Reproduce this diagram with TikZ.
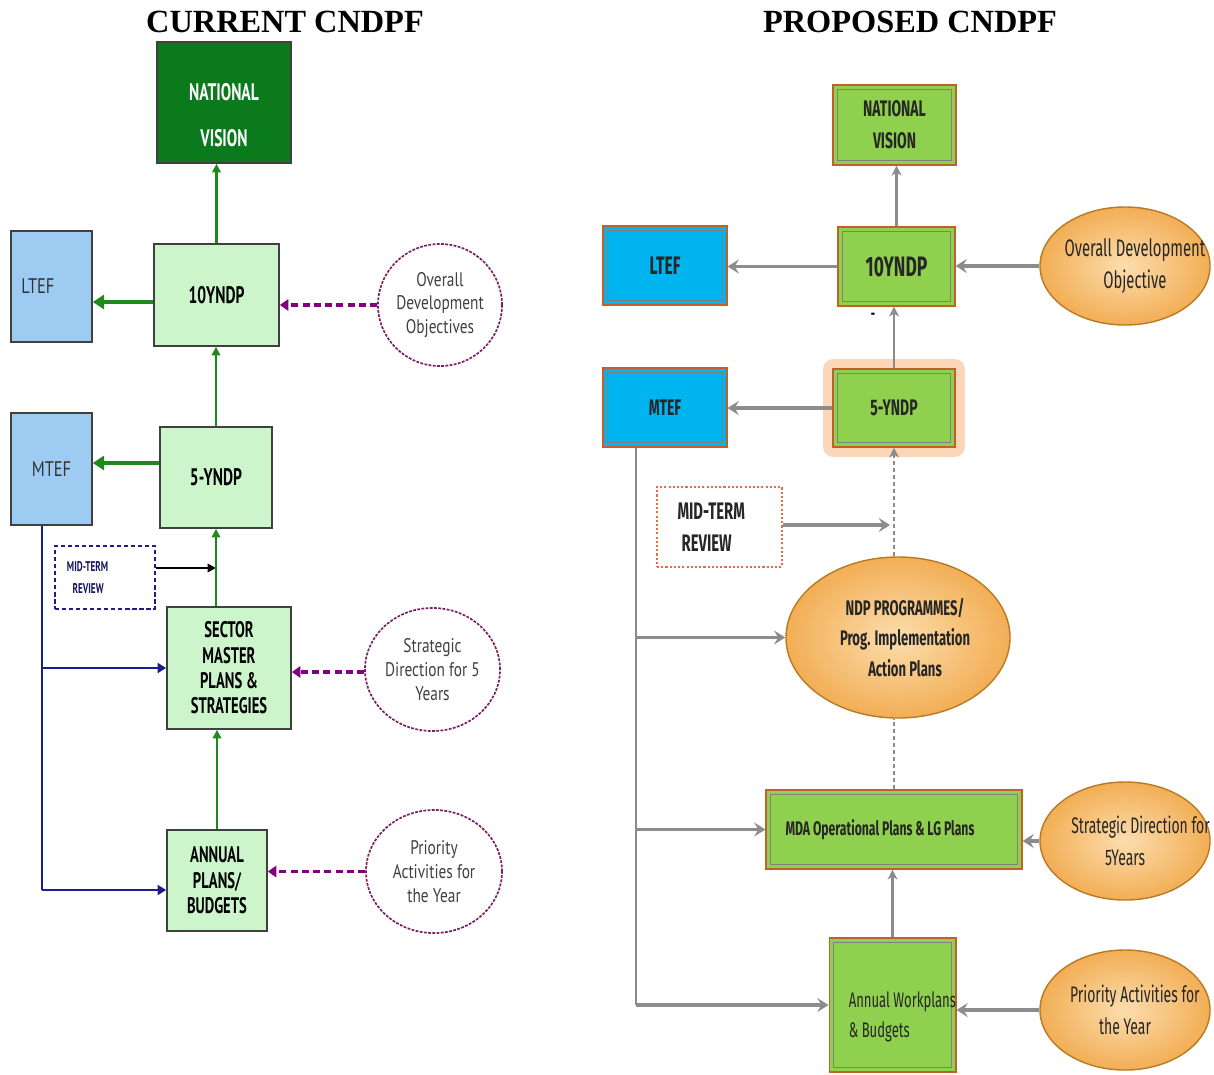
\documentclass[tikz,border=0pt]{standalone}
\usepackage{amsmath}
\usepackage{fontspec}
\usepackage{tikz}
\usetikzlibrary{positioning,arrows.meta,shapes.geometric}
\usepackage{xcolor}
\setmainfont{Liberation Serif}
\newfontfamily\curfont[FakeStretch=0.65]{PT Sans}
\newfontfamily\curthin[FakeStretch=0.78]{PT Sans}
\newfontfamily\propfont[FakeStretch=0.62]{Fira Sans}

\definecolor{nvdark}{HTML}{0B7A1C}
\definecolor{palegreen}{HTML}{CCF5CC}
\definecolor{paleblue}{HTML}{9DCBF2}
\definecolor{arrowgreen}{HTML}{1E8A1E}
\definecolor{dashpurple}{HTML}{800080}
\definecolor{ringpurple}{HTML}{7A1F62}
\definecolor{linenavy}{HTML}{1C1C8E}
\definecolor{limegreen}{HTML}{8FD14F}
\definecolor{cyanbox}{HTML}{00B4F0}
\definecolor{ovalorange}{HTML}{F2AE55}
\definecolor{ovallight}{HTML}{FCDDAE}
\definecolor{ovaldark}{HTML}{B87A22}
\definecolor{edgebrown}{HTML}{C0602A}
\definecolor{arrowgray}{HTML}{8C8C8C}
\definecolor{glow}{HTML}{FAC49A}
\definecolor{dotorange}{HTML}{E07040}

\begin{document}
\begin{tikzpicture}[x=0.025cm, y=-0.025cm,
    title/.style={font=\bfseries\fontsize{23pt}{26pt}\selectfont},
    curbox/.style={rectangle, draw=black!75, line width=1.2pt, fill=palegreen, align=center,
        font=\curfont\bfseries\fontsize{16pt}{18pt}\selectfont},
    blubox/.style={rectangle, draw=black!75, line width=1.2pt, fill=paleblue, minimum width=2.025cm,
        font=\curthin\fontsize{15pt}{18pt}\selectfont, text=black!80},
    curoval/.style={ellipse, draw=ringpurple, line width=1.2pt, dash pattern=on 2pt off 1pt,
        align=center, inner sep=0pt, font=\curthin\fontsize{14pt}{17pt}\selectfont, text=black!75},
    rbox/.style={rectangle, draw=edgebrown, line width=0.8pt, align=center, text=black!85,
        font=\propfont\bfseries,
        path picture={\draw[black!50, line width=0.7pt]
            ([shift={(3pt,-3pt)}]path picture bounding box.north west) rectangle
            ([shift={(-3pt,3pt)}]path picture bounding box.south east);}},
    roval/.style={ellipse, draw=ovaldark, line width=1pt, shading=radial, inner color=ovallight,
        outer color=ovalorange, align=center, inner xsep=-30pt, inner ysep=-10pt, text=black!85},
    greenarrow/.style={arrowgreen, line width=2.2pt, -{Triangle[width=10pt,length=8pt]}},
    greenup/.style={arrowgreen, line width=1.8pt, -{Triangle[width=6pt,length=6pt]}},
    purplearrow/.style={dashpurple, line width=2.2pt, dash pattern=on 5pt off 3pt,
        -{Triangle[width=8pt,length=6pt]}},
    navyline/.style={linenavy, line width=1.1pt},
    navyarrow/.style={linenavy, line width=2pt, -{Triangle[width=7pt,length=6pt]}},
    grayarrow/.style={arrowgray, line width=2.8pt, -{Stealth[width=10pt,length=8pt,inset=3pt]}},
    grayup/.style={arrowgray, line width=1.8pt, -{Stealth[width=7pt,length=7pt,inset=2pt]}},
    grayline/.style={arrowgray, line width=1.8pt}]

\useasboundingbox (0,0) rectangle (1214,1074);

\node [title] (curtitle) at (285,22) {CURRENT CNDPF};
\node [title] (proptitle) at (910,22) {PROPOSED CNDPF};

\node [rectangle, draw=black!75, line width=1.2pt, fill=nvdark, text=white, align=center,
    minimum width=3.35cm, minimum height=3.025cm,
    font=\curfont\bfseries\fontsize{17pt}{33pt}\selectfont] (lvision) at (224,102.5) {\rule{0pt}{30pt}NATIONAL\\VISION};
\node [curbox, minimum width=3.125cm, minimum height=2.55cm,
    font=\curfont\bfseries\fontsize{17pt}{20pt}\selectfont] (lten) at (216.5,295) {10YNDP};
\node [blubox, minimum height=2.775cm, text width=1.5cm, align=left] (lltef) at (51.5,286.5) {LTEF};
\node [curoval, minimum width=3.1cm, minimum height=3.05cm] (lodo) at (440,305) {Overall\\Development\\Objectives};
\node [curbox, minimum width=2.8cm, minimum height=2.525cm,
    font=\curfont\bfseries\fontsize{17pt}{20pt}\selectfont] (lfive) at (216,477.5) {5-YNDP};
\node [blubox, minimum height=2.8cm] (lmtef) at (51.5,469) {MTEF};
\node [rectangle, draw=linenavy, line width=1.5pt, dash pattern=on 3pt off 2pt, text=linenavy!70!black,
    minimum width=2.5cm, minimum height=1.575cm, text width=1.9cm, align=left,
    font=\curfont\bfseries\fontsize{10pt}{15pt}\selectfont] (lmtr) at (105,577.5) {MID-TERM\\\hspace*{4pt}REVIEW};
\node [curbox, minimum width=3.1cm, minimum height=3.05cm] (lsmp) at (229,668) {SECTOR\\MASTER\\PLANS \&\\STRATEGIES};
\node [curoval, minimum width=3.375cm, minimum height=3.075cm] (lsd) at (432.5,669.5) {Strategic\\Direction for 5\\Years};
\node [curbox, minimum width=2.5cm, minimum height=2.525cm] (lap) at (217,880.5) {ANNUAL\\PLANS/\\BUDGETS};
\node [curoval, minimum width=3.4cm, minimum height=3.075cm] (lpa) at (434,871.5) {Priority\\Activities for\\the Year};
\coordinate (lbus) at (42,890);

\draw [greenup] (lten.north) -- (lten.north |- lvision.south);
\draw [greenarrow] (lten.west |- 0,302) -- (lltef.east |- 0,302);
\draw [purplearrow] (lodo.west) -- (lten.east |- lodo.west);
\draw [greenup] (lfive.north) -- (lfive.north |- lten.south);
\draw [greenarrow] (lfive.west |- 0,463) -- (lmtef.east |- 0,463);
\draw [black, line width=1.6pt, -{Triangle[width=6pt,length=6pt]}] (lmtr.east |- 0,568) -- (lfive.south |- 0,568);
\draw [greenup] (lfive.south |- lsmp.north) -- (lfive.south);
\draw [purplearrow] (lsd.west |- 0,672) -- (lsmp.east |- 0,672);
\draw [navyline] (lmtef.south -| lbus) -- (lbus);
\draw [navyarrow] (lbus |- lsmp.west) -- (lsmp.west);
\draw [navyarrow] (lbus) -- (lap.west |- lbus);
\draw [greenup] (lap.north) -- (lap.north |- lsmp.south);
\draw [purplearrow] (lpa.west) -- (lap.east |- lpa.west);

\node [rbox, fill=limegreen, minimum width=3.075cm, minimum height=2cm,
    font=\propfont\bfseries\fontsize{16pt}{22.5pt}\selectfont] (rvision) at (894.5,125) {NATIONAL\\VISION};
\node [rbox, fill=limegreen, minimum width=2.925cm, minimum height=1.975cm,
    font=\propfont\bfseries\fontsize{20pt}{22pt}\selectfont] (rten) at (896.5,266.5) {10YNDP};
\node [rbox, fill=cyanbox, minimum width=3.1cm, minimum height=1.975cm,
    font=\propfont\bfseries\fontsize{18pt}{20pt}\selectfont] (rltef) at (665,265.5) {LTEF};
\node [roval, minimum width=4.25cm, minimum height=2.95cm,
    font=\propfont\fontsize{17pt}{23pt}\selectfont] (rodo) at (1125,266) {\hspace*{14pt}Overall Development\\\hspace*{14pt}Objective};
\node [font=\propfont\bfseries\fontsize{12pt}{12pt}\selectfont] (rdash) at (873,316) {-};
\node [rbox, fill=limegreen, minimum width=3.05cm, minimum height=1.95cm,
    preaction={draw=glow, line width=14pt, line join=round, opacity=0.7},
    font=\propfont\bfseries\fontsize{16pt}{20pt}\selectfont] (rfive) at (894,408) {5-YNDP};
\node [rbox, fill=cyanbox, minimum width=3.1cm, minimum height=1.975cm,
    font=\propfont\bfseries\fontsize{16pt}{20pt}\selectfont] (rmtef) at (665,407.5) {MTEF};
\node [rectangle, draw=dotorange, line width=1pt, dash pattern=on 1.5pt off 1.5pt, fill=white,
    minimum width=3.125cm, minimum height=2cm, text width=2.1cm, align=left, text=black!85,
    font=\propfont\bfseries\fontsize{17pt}{23pt}\selectfont] (rmtr) at (719.5,527) {MID-TERM\\\hspace*{3pt}REVIEW};
\node [roval, minimum width=5.6cm, minimum height=4.025cm,
    font=\propfont\bfseries\fontsize{15pt}{22pt}\selectfont] (rndp) at (898,637.5) {\hspace*{10pt}NDP PROGRAMMES/\\\hspace*{10pt}Prog. Implementation\\\hspace*{10pt}Action Plans};
\node [rbox, fill=limegreen, minimum width=6.4cm, minimum height=1.975cm,
    font=\propfont\bfseries\fontsize{14pt}{20pt}\selectfont] (rmda) at (894,829.5) {MDA Operational Plans \& LG Plans\hspace*{20pt}};
\node [roval, minimum width=4.25cm, minimum height=2.95cm,
    font=\propfont\fontsize{16pt}{23pt}\selectfont] (rsd) at (1125,841) {\hspace*{22pt}Strategic Direction for\\5Years};
\node [rbox, fill=limegreen, minimum width=3.125cm, minimum height=3.35cm, inner xsep=0pt, align=left,
    font=\propfont\fontsize{15pt}{21pt}\selectfont] (raw) at (892.5,1005) {\rule{0pt}{28pt}\hspace*{14pt}Annual Workplans\\\hspace*{14pt}\& Budgets};
\node [roval, minimum width=4.25cm, minimum height=3cm,
    font=\propfont\fontsize{16pt}{23pt}\selectfont] (rpa) at (1125,1010) {\hspace*{14pt}Priority Activities for\\the Year};
\coordinate (rbus) at (636,1005);

\draw [grayarrow] (rodo.west) -- (rten.east |- rodo.west);
\draw [grayarrow] (rten.west) -- (rltef.east |- rten.west);
\draw [grayup] (rten.north) -- (rten.north |- rvision.south);
\draw [grayup] (rfive.north) -- (rfive.north |- rten.south);
\draw [grayarrow] (rfive.west) -- (rmtef.east |- rfive.west);
\draw [grayup, dash pattern=on 3pt off 2pt] (rfive.south |- rndp.north) -- (rfive.south);
\draw [grayarrow] (rmtr.east |- 0,525) -- (890,525);
\draw [grayline, dash pattern=on 3pt off 2pt] (rmda.north) -- (rmda.north |- rndp.south);
\draw [grayline] (rmtef.south -| rbus) -- (rbus);
\draw [grayarrow] (rbus |- rndp.west) -- (rndp.west);
\draw [grayarrow] (rbus |- rmda.west) -- (rmda.west);
\draw [grayarrow] (rbus) -- (raw.west |- rbus);
\draw [grayup] (raw.north) -- (raw.north |- rmda.south);
\draw [grayarrow] (rsd.west) -- (rmda.east |- rsd.west);
\draw [grayarrow] (rpa.west) -- (raw.east |- rpa.west);
\end{tikzpicture}
\end{document}
